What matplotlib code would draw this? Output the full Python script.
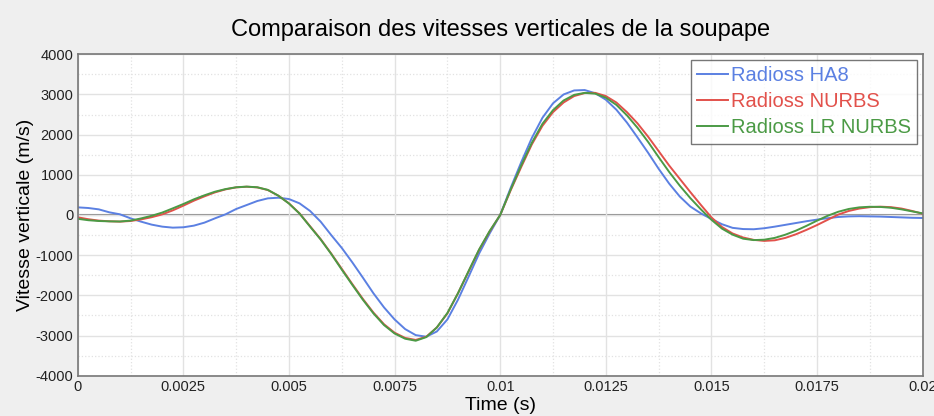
import numpy as np
import matplotlib.pyplot as plt
from matplotlib.ticker import MultipleLocator, FixedLocator, FixedFormatter

plt.rcParams['font.family'] = ['Liberation Sans', 'DejaVu Sans']
plt.rcParams['axes.unicode_minus'] = False

# Temps (s), pas de 0.00025 s, de 0 à 0.02
time_s = [i * 0.00025 for i in range(81)]

# Vitesses verticales (m/s)
v_ha8 = [190, 174, 140, 66, 17, -83, -166, -240, -290, -315,
         -306, -265, -190, -83, 17, 149, 248, 348, 414, 430,
         397, 290, 100, -166, -500, -820, -1180, -1560, -1950, -2300,
         -2600, -2840, -2990, -3030, -2900, -2600, -2110, -1540, -960, -460,
         0, 680, 1320, 1920, 2420, 2780, 3000, 3100, 3110, 3030,
         2870, 2620, 2300, 1930, 1550, 1150, 780, 460, 210, 40,
         -100, -230, -320, -350, -355, -330, -290, -245, -200, -155,
         -115, -80, -50, -35, -30, -35, -40, -50, -60, -70, -75]

v_nurbs = [-58, -105, -140, -157, -165, -150, -110, -55, 15, 115,
           232, 356, 464, 563, 638, 687, 704, 687, 621, 480,
           290, 41, -280, -600, -960, -1340, -1720, -2090, -2430, -2720,
           -2930, -3060, -3110, -3030, -2800, -2450, -1950, -1410, -870, -410,
           0, 620, 1200, 1760, 2220, 2560, 2800, 2960, 3035, 3040,
           2960, 2800, 2560, 2280, 1950, 1590, 1230, 900, 570, 250,
           -60, -300, -460, -560, -620, -645, -630, -570, -480, -370,
           -250, -120, 10, 100, 160, 195, 207, 195, 160, 100, 30]

v_lr_nurbs = [-95, -130, -150, -158, -162, -140, -85, -20, 60, 165,
              273, 390, 490, 580, 645, 690, 706, 690, 625, 480,
              285, 35, -290, -610, -970, -1360, -1740, -2110, -2450, -2740,
              -2950, -3080, -3130, -3040, -2800, -2440, -1950, -1400, -860, -400,
              0, 640, 1240, 1800, 2270, 2610, 2850, 2990, 3040, 3020,
              2920, 2740, 2480, 2170, 1820, 1440, 1070, 730, 420, 140,
              -120, -340, -490, -590, -625, -615, -570, -490, -390, -270,
              -140, -20, 80, 150, 190, 205, 200, 180, 140, 90, 40]

series = [
    ('Radioss HA8', v_ha8, '#5b80e2'),
    ('Radioss NURBS', v_nurbs, '#e2514b'),
    ('Radioss LR NURBS', v_lr_nurbs, '#4b9a45'),
]

xticks = [0, 0.0025, 0.005, 0.0075, 0.01, 0.0125, 0.015, 0.0175, 0.02]
xtick_labels = ['0', '0.0025', '0.005', '0.0075', '0.01', '0.0125', '0.015', '0.0175', '0.02']

fig = plt.figure(figsize=(9.34, 4.16), dpi=100, facecolor='#efefef')
ax = fig.add_axes([0.0832, 0.0969, 0.9047, 0.7726])
ax.set_facecolor('white')

ax.axhline(0, color='#8a8a8a', linewidth=1.5, zorder=1)
for label, vals, color in series:
    ax.plot(time_s, vals, color=color, linewidth=1.4, label=label, zorder=2)

ax.set_xlim(0, 0.02)
ax.set_ylim(-4000, 4000)
ax.xaxis.set_major_locator(FixedLocator(xticks))
ax.xaxis.set_major_formatter(FixedFormatter(xtick_labels))
ax.xaxis.set_minor_locator(MultipleLocator(0.00125))
ax.yaxis.set_major_locator(MultipleLocator(1000))
ax.yaxis.set_minor_locator(MultipleLocator(500))
ax.grid(which='major', color='#e2e2e2', linewidth=1.0, linestyle='-')
ax.grid(which='minor', color='#e2e2e2', linewidth=0.9, linestyle=':')
ax.tick_params(which='both', length=0, labelsize=10.5, colors='#222222', pad=3)
for sp in ax.spines.values():
    sp.set_color('#777777')
    sp.set_linewidth(1.2)

ax.set_title('Comparaison des vitesses verticales de la soupape', fontsize=17, pad=13)
ax.set_xlabel('Time (s)', fontsize=14, labelpad=2)
ax.set_ylabel('Vitesse verticale (m/s)', fontsize=14, labelpad=1)

leg = ax.legend(loc='upper right', fontsize=14.5, frameon=True, fancybox=False,
                handlelength=1.5, handletextpad=0.15, borderpad=0.3, labelspacing=0.35,
                borderaxespad=0.3)
leg.get_frame().set_edgecolor('#555555')
leg.get_frame().set_linewidth(1.0)
for text, (_, _, color) in zip(leg.get_texts(), series):
    text.set_color(color)

plt.savefig('out.png', dpi=100, facecolor=fig.get_facecolor())
plt.close()
